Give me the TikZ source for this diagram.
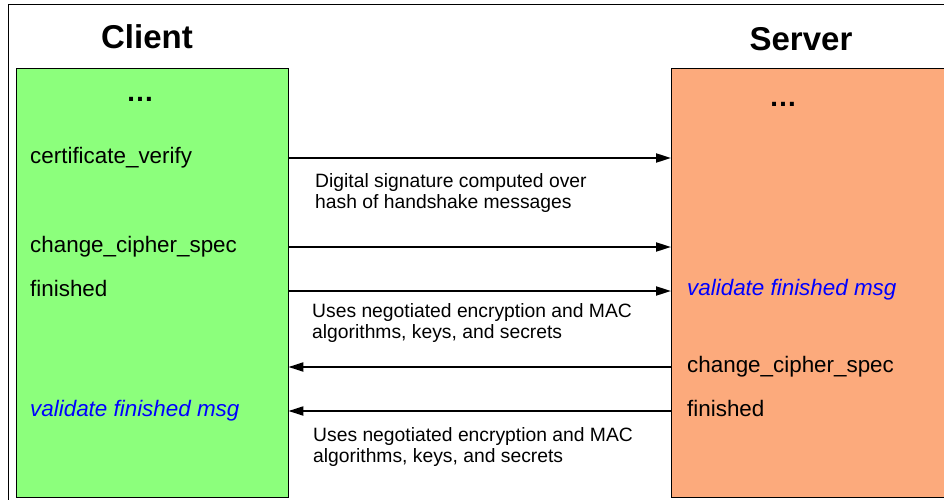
\documentclass[tikz,border=0pt]{standalone}
\usepackage{fontspec}
\setmainfont{Liberation Sans}
\usetikzlibrary{arrows.meta}
\definecolor{cgreen}{RGB}{140,255,124}
\definecolor{csalmon}{RGB}{252,170,124}
\begin{document}
\begin{tikzpicture}[x=1pt,y=-1pt,
    msg/.style={anchor=west,inner sep=0pt,text height=16pt,text depth=5pt,font=\fontsize{22.4}{26}\selectfont},
    valid/.style={msg,text=blue,font=\fontsize{22.4}{26}\selectfont\itshape},
    note/.style={anchor=north west,inner sep=0pt,align=left,font=\fontsize{19.3}{21}\selectfont},
    title/.style={font=\fontsize{33}{36}\selectfont\bfseries},
    dots/.style={font=\fontsize{28}{30}\selectfont\bfseries},
    flow/.style={line width=2pt,-{Triangle[length=15pt,width=9pt]}}]

\useasboundingbox (0,0) rectangle (944,500);
\draw[line width=1pt] (8,520) -- (8,5) -- (960,5);

   \node[title] at (147,37) (ct) {Client};
   \node[title] at (801,39) (st) {Server};

   \node[draw,fill=cgreen,anchor=north west,inner sep=0pt,minimum width=272pt,minimum height=429pt] at (16,68) (C) {};
   \node[draw,fill=csalmon,anchor=north west,inner sep=0pt,minimum width=300pt,minimum height=429pt] at (671,68) (S) {};

   \node[dots] at (140,99) (cd) {…};
   \node[dots] at (783,104) (sd) {…};

   \node[msg] at (30,158) (cv) {certificate\_verify};
   \node[msg] at (30,247) (ccs) {change\_cipher\_spec};
   \node[msg] at (30,291) (cf) {finished};
   \node[valid] at (30,411) (cval) {validate finished msg};

   \node[valid] at (687,290) (sval) {validate finished msg};
   \node[msg] at (687,367) (sccs) {change\_cipher\_spec};
   \node[msg] at (687,411) (sf) {finished};

    \draw[flow] (C.east |- cv) -- (S.west |- cv);
    \draw[flow] (C.east |- ccs) -- (S.west |- ccs);
    \draw[flow] (C.east |- cf) -- (S.west |- cf);
    \draw[flow] (S.west |- sccs) -- (C.east |- sccs);
    \draw[flow] (S.west |- sf) -- (C.east |- sf);

   \node[note] at (315,173) (n1) {Digital signature computed over\\hash of handshake messages};
   \node[note] at (312,303) (n2) {Uses negotiated encryption and MAC\\algorithms, keys, and secrets};
   \node[note] at (313,427) (n3) {Uses negotiated encryption and MAC\\algorithms, keys, and secrets};

\end{tikzpicture}
\end{document}
